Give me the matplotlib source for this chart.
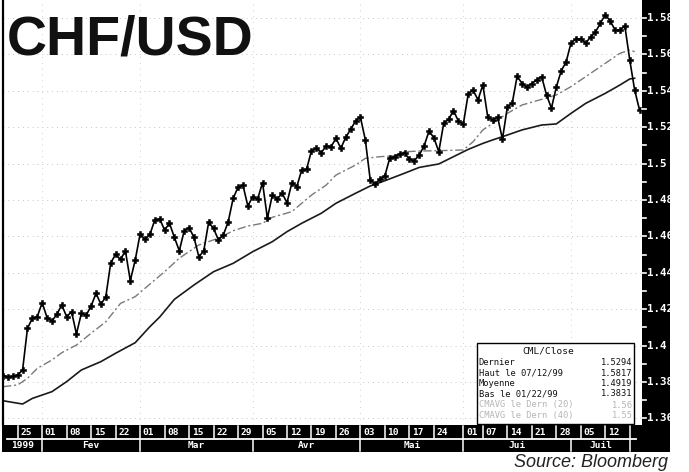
import matplotlib
matplotlib.use('Agg')
import matplotlib.pyplot as plt
from matplotlib.patches import Rectangle
from matplotlib.lines import Line2D
import matplotlib.transforms as mtransforms

# ---------------- data ----------------
close = [
    1.3835, 1.3829, 1.3831, 1.3838, 1.3866, 1.4095, 1.4150, 1.4159, 1.4236, 1.4153,
    1.4135, 1.4172, 1.4223, 1.4159, 1.4186, 1.4064, 1.4177, 1.4168, 1.4218, 1.4287,
    1.4227, 1.4269, 1.4455, 1.4501, 1.4474, 1.4520, 1.4357, 1.4470, 1.4613, 1.4584,
    1.4611, 1.4690, 1.4696, 1.4635, 1.4672, 1.4595, 1.4521, 1.4630, 1.4648, 1.4595,
    1.4488, 1.4520, 1.4678, 1.4644, 1.4580, 1.4608, 1.4681, 1.4809, 1.4870, 1.4882,
    1.4767, 1.4818, 1.4805, 1.4895, 1.4700, 1.4827, 1.4805, 1.4837, 1.4785, 1.4895,
    1.4873, 1.4965, 1.4969, 1.5071, 1.5084, 1.5060, 1.5097, 1.5093, 1.5139, 1.5084,
    1.5145, 1.5188, 1.5234, 1.5254, 1.5130, 1.4910, 1.4888, 1.4914, 1.4934, 1.5032,
    1.5038, 1.5051, 1.5060, 1.5024, 1.5016, 1.5047, 1.5097, 1.5179, 1.5142, 1.5065,
    1.5221, 1.5243, 1.5291, 1.5234, 1.5216, 1.5382, 1.5404, 1.5350, 1.5432, 1.5256,
    1.5240, 1.5256, 1.5135, 1.5310, 1.5333, 1.5480, 1.5440, 1.5420, 1.5440, 1.5460,
    1.5478, 1.5377, 1.5305, 1.5420, 1.5510, 1.5558, 1.5663, 1.5685, 1.5685, 1.5663,
    1.5695, 1.5723, 1.5772, 1.5817, 1.5784, 1.5734, 1.5734, 1.5756, 1.5569, 1.5404,
    1.5294]

ma20_day = [0, 3, 5, 7, 10, 12, 15, 18, 21, 24, 27, 29, 33, 36, 40, 44, 47, 50, 53,
            55, 59, 61, 63, 66, 68, 72, 74, 77, 80, 82, 85, 89, 94, 96, 98, 100,
            103, 106, 110, 113, 116, 120, 123, 126, 128, 129]
ma20_val = [1.3774, 1.3784, 1.3820, 1.3875, 1.3921, 1.3961, 1.4003, 1.4068, 1.4131,
            1.4232, 1.4269, 1.4315, 1.4406, 1.4480, 1.4553, 1.4590, 1.4631, 1.4657,
            1.4672, 1.4705, 1.4736, 1.4782, 1.4827, 1.4882, 1.4937, 1.4992, 1.5029,
            1.5038, 1.5043, 1.5065, 1.5069, 1.5071, 1.5075, 1.5120, 1.5185, 1.5221,
            1.5276, 1.5322, 1.5353, 1.5377, 1.5423, 1.5496, 1.5551, 1.5606, 1.5624,
            1.5615]

ma40_day = [0, 4, 6, 10, 13, 16, 20, 23, 27, 30, 32, 35, 39, 43, 47, 51, 55, 58, 61,
            65, 68, 72, 75, 78, 82, 85, 89, 92, 95, 98, 100, 103, 106, 110, 113, 116,
            119, 123, 126, 128, 129]
ma40_val = [1.3697, 1.3679, 1.3710, 1.3747, 1.3802, 1.3866, 1.3912, 1.3958, 1.4016,
            1.4104, 1.4157, 1.4254, 1.4333, 1.4406, 1.4452, 1.4516, 1.4571, 1.4626,
            1.4672, 1.4727, 1.4782, 1.4837, 1.4877, 1.4906, 1.4947, 1.4979, 1.4998,
            1.5038, 1.5078, 1.5111, 1.5130, 1.5157, 1.5185, 1.5212, 1.5218, 1.5276,
            1.5331, 1.5386, 1.5432, 1.5465, 1.5469]

ytick_vals = [1.36, 1.38, 1.40, 1.42, 1.44, 1.46, 1.48, 1.50, 1.52, 1.54, 1.56, 1.58]
ytick_labels = ['1.36', '1.38', '1.4', '1.42', '1.44', '1.46', '1.48', '1.5',
                '1.52', '1.54', '1.56', '1.58']
yminor_vals = [1.37, 1.39, 1.41, 1.43, 1.45, 1.47, 1.49, 1.51, 1.53, 1.55, 1.57]

day_idx = [3, 8, 13, 18, 23, 28, 33, 38, 43, 48, 53, 58, 63, 68, 73, 78, 83, 88,
           94, 98, 103, 108, 113, 118, 123]
day_labels = ['25', '01', '08', '15', '22', '01', '08', '15', '22', '29', '05', '12',
              '19', '26', '03', '10', '17', '24', '01', '07', '14', '21', '28', '05', '12']
month_bounds = [0, 8, 28, 51, 73, 94, 116, 128.1]
month_labels = ['1999', 'Fev', 'Mar', 'Avr', 'Mai', 'Jui', 'Juil']

legend_rows = [('Dernier', '1.5294'), ('Haut le 07/12/99', '1.5817'),
               ('Moyenne', '1.4919'), ('Bas le 01/22/99', '1.3831')]
legend_grey_rows = [('CMAVG le Dern (20)', '1.56'), ('CMAVG le Dern (40)', '1.55')]

# ---------------- figure ----------------
W, H = 689, 472
fig = plt.figure(figsize=(W / 100, H / 100), dpi=100)
fig.patch.set_facecolor('white')

def fx(px):
    return px / W

def fy(py):
    return 1 - py / H

XL = (0.0, 130.5)
YL = (1.58 - (425 - 18) / 1820.0, 1.58 + 18 / 1820.0)

ax = fig.add_axes([fx(3), fy(425), fx(642) - fx(3), fy(0) - fy(425)])
ax.set_xlim(*XL)
ax.set_ylim(*YL)
ax.set_facecolor('white')
for s in ['top', 'right', 'bottom']:
    ax.spines[s].set_visible(False)
ax.spines['left'].set_linewidth(1.6)
ax.spines['left'].set_color('black')
ax.set_xticks([])
ax.set_yticks([])

# faint dotted grid
for v in ytick_vals:
    ax.axhline(v, color='#c4c4c4', lw=0.7, ls=(0, (1, 4)), zorder=0)
for b in month_bounds[1:-1]:
    ax.axvline(b, color='#d0d0d0', lw=0.7, ls=(0, (1, 5)), zorder=0)

days = list(range(len(close)))
ax.plot(ma40_day, ma40_val, color='#1a1a1a', lw=1.2, zorder=2)
ax.plot(ma20_day, ma20_val, color='#7a7a7a', lw=1.0, dashes=(6, 2, 1.5, 2), zorder=2)
ax.plot(days, close, color='black', lw=1.2, marker='P', ms=4.2, mew=0.4,
        mfc='black', mec='black', zorder=3)

# right black column
fig.patches.append(Rectangle((fx(642), fy(452)), fx(670) - fx(642), fy(0) - fy(452),
                             transform=fig.transFigure, facecolor='black',
                             edgecolor='none', zorder=1))

trans = mtransforms.blended_transform_factory(fig.transFigure, ax.transData)
for v, lab in zip(ytick_vals, ytick_labels):
    fig.add_artist(Line2D([fx(642), fx(646)], [v, v], transform=trans, color='white',
                          lw=1.2, zorder=3))
    fig.text(fx(646.5), v, lab, transform=trans, color='white', fontsize=7.8,
             family='DejaVu Sans Mono', weight='bold', ha='left', va='center', zorder=4)
for v in yminor_vals:
    fig.add_artist(Line2D([fx(642), fx(646)], [v, v], transform=trans, color='white',
                          lw=1.2, zorder=3))

# bottom date band
bax = fig.add_axes([fx(3), fy(452), fx(642) - fx(3), fy(425) - fy(452)])
bax.set_xlim(*XL)
bax.set_ylim(0, 1)
bax.set_facecolor('black')
for s in bax.spines.values():
    s.set_visible(False)
bax.set_xticks([])
bax.set_yticks([])
fig.patches.append(Rectangle((fx(2), fy(452)), fx(4) - fx(2), fy(425) - fy(452),
                             transform=fig.transFigure, facecolor='black',
                             edgecolor='none', zorder=0))

bax.plot([0.8, 129.3], [0.5, 0.5], color='white', lw=1.3)
for d, lab in zip(day_idx, day_labels):
    bax.plot([d, d], [0.52, 0.97], color='white', lw=1.1)
    bax.text(d + 0.55, 0.74, lab, color='white', fontsize=6.8, family='DejaVu Sans Mono',
             weight='bold', ha='left', va='center')
bax.plot([month_bounds[-1]] * 2, [0.52, 0.97], color='white', lw=1.1)
for b in month_bounds[1:]:
    bax.plot([b, b], [0.03, 0.5], color='white', lw=1.1)
for i, lab in enumerate(month_labels):
    c = (month_bounds[i] + month_bounds[i + 1]) / 2
    bax.text(c, 0.25, lab, color='white', fontsize=6.8, family='DejaVu Sans Mono',
             weight='bold', ha='center', va='center')

# legend box
fig.patches.append(Rectangle((fx(477), fy(424)), fx(634) - fx(477), fy(343) - fy(424),
                             transform=fig.transFigure, facecolor='white',
                             edgecolor='black', lw=1.0, zorder=5))
fig.text(fx(548), fy(351), 'CML/Close', fontsize=6.8, family='DejaVu Sans Mono',
         ha='center', va='center', color='#111111', zorder=6)
row_y = [362.5, 373, 383.5, 394, 405, 415.5]
for (lab, val), yy in zip(legend_rows, row_y[:4]):
    fig.text(fx(478.5), fy(yy), lab, fontsize=6.3, family='DejaVu Sans Mono',
             ha='left', va='center', color='#111111', zorder=6)
    fig.text(fx(632.5), fy(yy), val, fontsize=6.3, family='DejaVu Sans Mono',
             ha='right', va='center', color='#111111', zorder=6)
for (lab, val), yy in zip(legend_grey_rows, row_y[4:]):
    fig.text(fx(478.5), fy(yy), lab, fontsize=6.3, family='DejaVu Sans Mono',
             ha='left', va='center', color='#b5b5b5', zorder=6)
    fig.text(fx(632.5), fy(yy), val, fontsize=6.3, family='DejaVu Sans Mono',
             ha='right', va='center', color='#b5b5b5', zorder=6)

# title and source
fig.text(fx(7), fy(55), 'CHF/USD', fontsize=40, weight='bold',
         family='Liberation Sans', ha='left', va='baseline', color='#111111', zorder=6)
fig.text(fx(668), fy(467), 'Source: Bloomberg', fontsize=13, style='italic',
         family='Liberation Sans', ha='right', va='baseline', color='#222222')

fig.savefig('out.png', dpi=100, facecolor='white')
